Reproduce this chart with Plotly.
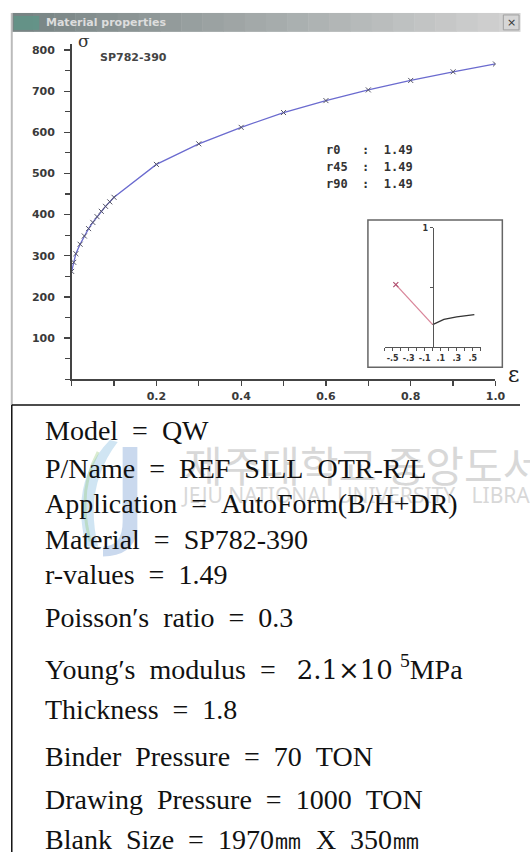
import plotly.graph_objects as go

W, H = 530, 852


def X(px):
    return px / W


def Y(py):
    return 1 - py / H


# ---------------- data ----------------
strain = [0.0, 0.005, 0.01, 0.02, 0.03, 0.04, 0.05, 0.06, 0.07, 0.08, 0.09, 0.1,
          0.2, 0.3, 0.4, 0.5, 0.6, 0.7, 0.8, 0.9, 1.0]
stress = [262, 284, 305, 328, 348, 366, 381, 395, 408, 420, 431, 442,
          522, 572, 612, 648, 677, 703, 726, 747, 766]

y_tick_vals = [100, 200, 300, 400, 500, 600, 700, 800]
x_tick_vals = [0.2, 0.4, 0.6, 0.8, 1.0]
x_tick_text = ["0.2", "0.4", "0.6", "0.8", "1.0"]

material_name = "SP782-390"
r_labels = ["r0", "r45", "r90"]
r_values = [1.49, 1.49, 1.49]

# forming limit inset (minor strain, major strain)
fld_left_minor = [-0.46, -0.23, 0.0]
fld_left_major = [0.525, 0.36, 0.19]
fld_right_minor = [0.0, 0.14, 0.30, 0.52]
fld_right_major = [0.19, 0.235, 0.255, 0.275]
inset_x_ticks = [-0.5, -0.3, -0.1, 0.1, 0.3, 0.5]
inset_x_text = ["-.5", "-.3", "-.1", ".1", ".3", ".5"]

NB = "\u00a0"
info_lines = [
    f"Model{NB}{NB}={NB}{NB}QW",
    f"P/Name{NB}{NB}={NB}{NB}REF{NB}{NB}SILL{NB}{NB}OTR-R/L",
    f"Application{NB}{NB}={NB}{NB}AutoForm(B/H+DR)",
    f"Material{NB}{NB}={NB}{NB}SP782-390",
    f"r-values{NB}{NB}={NB}{NB}1.49",
    f"Poisson′s{NB}{NB}ratio{NB}{NB}={NB}{NB}0.3",
    f"Young′s{NB}{NB}modulus{NB}{NB}={NB}{NB}{NB}<span style=\"font-family:DejaVu Serif;font-size:26px\">2.1×10</span>{NB}<sup>5</sup>MPa",
    f"Thickness{NB}{NB}={NB}{NB}1.8",
    f"Binder{NB}{NB}Pressure{NB}{NB}={NB}{NB}70{NB}{NB}TON",
    f"Drawing{NB}{NB}Pressure{NB}{NB}={NB}{NB}1000{NB}{NB}TON",
    f"Blank{NB}{NB}Size{NB}{NB}={NB}{NB}1970㎜{NB}{NB}X{NB}{NB}350㎜",
]
info_y = [429, 467, 502, 538, 573, 616, 667, 709, 756, 799, 839]

# ---------------- figure ----------------
fig = go.Figure()

fig.add_trace(go.Scatter(
    x=strain, y=stress, mode="lines+markers",
    line=dict(color="#6b6bcf", width=1.3),
    marker=dict(symbol="x-thin", size=5, line=dict(color="#555566", width=1)),
    xaxis="x", yaxis="y", hoverinfo="skip"))

fig.add_trace(go.Scatter(
    x=fld_left_minor, y=fld_left_major, mode="lines",
    line=dict(color="#d9869a", width=1.3),
    xaxis="x2", yaxis="y2", hoverinfo="skip"))
fig.add_trace(go.Scatter(
    x=fld_left_minor[:1], y=fld_left_major[:1], mode="markers",
    marker=dict(symbol="x-thin", size=5, line=dict(color="#b05070", width=1.2)),
    xaxis="x2", yaxis="y2", hoverinfo="skip"))
fig.add_trace(go.Scatter(
    x=fld_right_minor, y=fld_right_major, mode="lines",
    line=dict(color="#333333", width=1.3),
    xaxis="x2", yaxis="y2", hoverinfo="skip"))

tickfont = dict(family="DejaVu Sans", size=11, color="#3a3a3a", weight="bold")

fig.update_layout(
    width=W, height=H,
    margin=dict(l=0, r=0, t=0, b=0),
    paper_bgcolor="white", plot_bgcolor="white",
    showlegend=False,
    xaxis=dict(domain=[X(73), X(505)], range=[0, 1.0], anchor="y",
               showline=True, linecolor="#444444", linewidth=1.5,
               showgrid=False, zeroline=False,
               tickmode="array", tickvals=x_tick_vals, ticktext=x_tick_text,
               ticks="outside", ticklen=5, tickwidth=1.2, tickcolor="#444444",
               minor=dict(tickmode="linear", tick0=0, dtick=0.1, ticks="outside",
                          ticklen=5, tickwidth=1.2, tickcolor="#444444"),
               ticklabelstandoff=1,
               tickfont=tickfont, fixedrange=True),
    yaxis=dict(domain=[Y(377), Y(40)], range=[0, 815], anchor="x",
               showline=True, linecolor="#444444", linewidth=1.5,
               showgrid=False, zeroline=False,
               tickmode="array", tickvals=y_tick_vals,
               ticktext=[str(v) for v in y_tick_vals],
               ticks="outside", ticklen=6, tickwidth=1.2, tickcolor="#444444",
               minor=dict(tickmode="linear", tick0=0, dtick=50, ticks="outside",
                          ticklen=5, tickwidth=1.2, tickcolor="#444444"),
               ticklabelstandoff=7,
               tickfont=tickfont, fixedrange=True),
    xaxis2=dict(domain=[X(392), X(490)], range=[-0.6, 0.6], anchor="y2",
                showline=True, linecolor="#555555", linewidth=1,
                showgrid=False, zeroline=False,
                tickmode="array", tickvals=inset_x_ticks, ticktext=inset_x_text,
                ticks="outside", ticklen=3, tickcolor="#555555",
                minor=dict(tickmode="linear", tick0=0, dtick=0.1, ticks="outside",
                           ticklen=3, tickcolor="#555555"),
                tickfont=dict(family="DejaVu Sans", size=8, color="#333333", weight="bold"),
                fixedrange=True),
    yaxis2=dict(domain=[Y(345), Y(225)], range=[0, 1.0], anchor="free",
                position=X(441),
                showline=True, linecolor="#555555", linewidth=1,
                showgrid=False, zeroline=False,
                tickmode="array", tickvals=[0.5, 1.0], ticktext=["", "1"],
                ticks="outside", ticklen=3, tickcolor="#555555",
                tickfont=dict(family="DejaVu Sans", size=8, color="#333333", weight="bold"),
                fixedrange=True),
)

shapes = []
# title bar gradient
n_seg = 24
x0, x1 = 12, 530
for i in range(n_seg):
    t = i / (n_seg - 1)
    r = int(0x78 + (0xd2 - 0x78) * t)
    g = int(0x84 + (0xd2 - 0x84) * t)
    b = int(0x84 + (0xd2 - 0x84) * t)
    xa = x0 + (x1 - x0) * i / n_seg
    xb = x0 + (x1 - x0) * (i + 1) / n_seg + 0.5
    shapes.append(dict(type="rect", xref="paper", yref="paper",
                       x0=X(xa), x1=X(xb), y0=Y(28), y1=Y(9),
                       fillcolor=f"rgb({r},{g},{b})", line=dict(width=0), layer="above"))
# title icon
shapes.append(dict(type="rect", xref="paper", yref="paper", x0=X(14), x1=X(40), y0=Y(26), y1=Y(12),
                   fillcolor="#5f9688", line=dict(width=0), opacity=0.8, layer="above"))
# close button
shapes.append(dict(type="rect", xref="paper", yref="paper", x0=X(513), x1=X(529), y0=Y(26), y1=Y(11),
                   fillcolor="#d6d6d6", line=dict(color="#a0a0a0", width=1), layer="above"))
# window left border
shapes.append(dict(type="line", xref="paper", yref="paper", x0=X(12), x1=X(12), y0=Y(403), y1=Y(9),
                   line=dict(color="#bbbbbb", width=2), layer="above"))
# inset frame
shapes.append(dict(type="rect", xref="paper", yref="paper", x0=X(375), x1=X(512), y0=Y(365), y1=Y(217),
                   line=dict(color="#666666", width=1.5), fillcolor="rgba(0,0,0,0)", layer="above"))
# table borders
shapes.append(dict(type="line", xref="paper", yref="paper", x0=X(12), x1=X(530), y0=Y(403), y1=Y(403),
                   line=dict(color="#111111", width=1.5), layer="above"))
shapes.append(dict(type="line", xref="paper", yref="paper", x0=X(12), x1=X(12), y0=Y(852), y1=Y(403),
                   line=dict(color="#111111", width=1.5), layer="above"))
# faint logo swoosh (watermark)
shapes.append(dict(type="path", xref="paper", yref="paper",
                   path=f"M {X(112)},{Y(438)} Q {X(70)},{Y(480)} {X(88)},{Y(545)} L {X(100)},{Y(545)} Q {X(85)},{Y(485)} {X(120)},{Y(440)} Z",
                   fillcolor="rgba(120,180,220,0.35)", line=dict(width=0), layer="below"))
shapes.append(dict(type="path", xref="paper", yref="paper",
                   path=f"M {X(125)},{Y(445)} L {X(140)},{Y(445)} L {X(140)},{Y(530)} Q {X(135)},{Y(555)} {X(105)},{Y(555)} L {X(105)},{Y(545)} Q {X(125)},{Y(545)} {X(125)},{Y(520)} Z",
                   fillcolor="rgba(80,130,200,0.30)", line=dict(width=0), layer="below"))
shapes.append(dict(type="path", xref="paper", yref="paper",
                   path=f"M {X(100)},{Y(450)} Q {X(78)},{Y(490)} {X(92)},{Y(540)}",
                   line=dict(color="rgba(150,200,120,0.35)", width=3), layer="below"))
fig.update_layout(shapes=shapes)

ann = []
ann.append(dict(text="Material properties", x=X(45), y=Y(18.5), xref="paper", yref="paper",
                xanchor="left", yanchor="middle", showarrow=False,
                font=dict(family="DejaVu Sans", size=11, color="#dddddd", weight="bold")))
ann.append(dict(text="×", x=X(521), y=Y(18.5), xref="paper", yref="paper",
                xanchor="center", yanchor="middle", showarrow=False,
                font=dict(family="DejaVu Sans", size=11, color="#333333")))
ann.append(dict(text="σ", x=X(77), y=Y(37), xref="paper", yref="paper",
                xanchor="left", yanchor="middle", showarrow=False,
                font=dict(family="DejaVu Serif", size=17, color="#333333")))
ann.append(dict(text="ε", x=X(523), y=Y(372), xref="paper", yref="paper",
                xanchor="center", yanchor="middle", showarrow=False,
                font=dict(family="DejaVu Serif", size=22, color="#222222")))
ann.append(dict(text=material_name, x=X(100), y=Y(54), xref="paper", yref="paper",
                xanchor="left", yanchor="middle", showarrow=False,
                font=dict(family="DejaVu Sans", size=11, color="#444444", weight="bold")))
for i, (lab, val) in enumerate(zip(r_labels, r_values)):
    txt = lab + NB * (5 - len(lab)) + ":" + NB * 2 + f"{val:.2f}"
    ann.append(dict(text=txt, x=X(330), y=Y(147 + 17 * i), xref="paper", yref="paper",
                    xanchor="left", yanchor="middle", showarrow=False,
                    font=dict(family="DejaVu Sans Mono", size=12, color="#333333", weight="bold")))

# watermark
ann.append(dict(text="제주대학교 중앙도서관", x=X(186), y=Y(462), xref="paper", yref="paper",
                xanchor="left", yanchor="middle", showarrow=False,
                font=dict(family="Noto Sans CJK KR", size=42, color="#d8d8d8")))
ann.append(dict(text=f"JEJU NATIONAL UNIVERSITY{NB}{NB}{NB}LIBRARY", x=X(182), y=Y(493), xref="paper", yref="paper",
                xanchor="left", yanchor="middle", showarrow=False,
                font=dict(family="Noto Sans", size=21, color="#d8d8d8")))

for txt, yy in zip(info_lines, info_y):
    ann.append(dict(text=txt, x=X(44), y=Y(yy), xref="paper", yref="paper",
                    xanchor="left", yanchor="middle", showarrow=False,
                    font=dict(family="Liberation Serif", size=28, color="#111111")))
fig.update_layout(annotations=ann)

fig.write_html("out.html",
               config={"displayModeBar": False, "staticPlot": True},
               post_script="document.body.style.margin='0';document.body.style.overflow='hidden';")
